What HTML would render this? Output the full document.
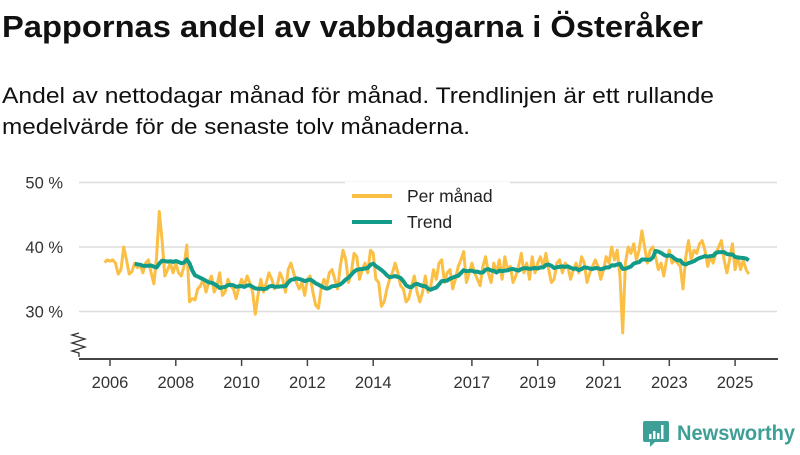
<!DOCTYPE html>
<html><head><meta charset="utf-8"><style>
body{margin:0;background:#fff;width:800px;height:450px;overflow:hidden;font-family:"Liberation Sans",sans-serif}
svg text{font-family:"Liberation Sans",sans-serif}
</style></head><body>
<svg id="chart" width="800" height="450">
<text x="2" y="37" font-size="31" font-weight="bold" fill="#111" textLength="701" lengthAdjust="spacingAndGlyphs">Pappornas andel av vabbdagarna i Österåker</text>
<text x="2" y="103" font-size="22.5" fill="#111" textLength="712" lengthAdjust="spacingAndGlyphs">Andel av nettodagar månad för månad. Trendlinjen är ett rullande</text>
<text x="2" y="134" font-size="22.5" fill="#111" textLength="468" lengthAdjust="spacingAndGlyphs">medelvärde för de senaste tolv månaderna.</text>
<g id="grid"></g><g id="axes"></g><g id="series"></g>
<g>
<rect x="345" y="182" width="165" height="54" fill="#fff"/>
<line x1="352" y1="196" x2="392" y2="196" stroke="#fbbf45" stroke-width="4"/>
<text x="407" y="202" font-size="17.5" fill="#222">Per månad</text>
<line x1="352" y1="222" x2="392" y2="222" stroke="#139b8a" stroke-width="4"/>
<text x="407" y="228" font-size="17.5" fill="#222">Trend</text>
</g>
<g>
<path d="M645,421 h22 a2,2 0 0 1 2,2 v17 a2,2 0 0 1 -2,2 h-12 l-5,5 v-5 h-5 a2,2 0 0 1 -2,-2 v-17 a2,2 0 0 1 2,-2z" fill="#3d9f95"/>
<rect x="649" y="434" width="2.5" height="5" fill="#fff"/><rect x="653" y="431" width="2.5" height="8" fill="#fff"/><rect x="657" y="433" width="2.5" height="6" fill="#fff"/><rect x="661" y="425" width="2.5" height="14" fill="#fff"/>
<text x="677" y="440" font-size="21" font-weight="bold" fill="#3d9f95" textLength="118" lengthAdjust="spacingAndGlyphs">Newsworthy</text>
</g>
</svg>
<script>
const yTicks=[30,40,50];
const yTickLabels=["30 %","40 %","50 %"];
const xTicks=[2006,2008,2010,2012,2014,2017,2019,2021,2023,2025];
const startYear=2005, startMonth=10; // Nov 2005 (0-based month)
const monthly=[37.6,38.0,
37.8,38.0,37.5,35.8,36.5,40.0,38.0,35.8,36.2,37.5,36.8,37.2,
36.0,37.5,38.0,36.0,34.3,38.5,45.5,41.0,35.5,36.5,37.5,36.0,
37.5,36.0,35.5,37.0,40.3,31.5,32.0,31.8,33.5,34.0,35.0,33.0,
34.5,35.5,33.0,34.0,36.0,32.5,33.0,35.0,34.0,33.5,32.0,33.8,
35.0,34.0,35.5,34.5,33.0,29.6,32.5,35.0,33.0,34.5,36.0,35.0,
33.5,34.0,36.0,35.0,33.0,36.5,37.5,36.0,34.5,33.5,34.5,32.5,
35.0,35.5,33.0,31.0,30.5,33.5,35.0,34.0,36.0,36.5,35.0,33.5,
37.0,39.5,38.0,34.5,36.0,39.0,38.5,35.0,36.5,37.5,36.0,39.5,
39.0,35.0,34.5,30.8,31.5,33.5,35.0,36.0,37.5,36.0,34.0,33.5,
31.5,32.0,34.0,35.5,33.0,31.5,33.0,35.5,33.0,34.0,36.5,35.0,
37.5,38.0,34.5,36.0,36.5,33.5,35.0,37.0,38.0,39.3,34.5,36.0,
37.5,36.0,35.0,34.0,37.0,38.5,36.0,34.5,37.5,36.0,38.0,35.0,
38.5,36.5,37.0,34.5,35.5,37.0,39.0,36.0,37.5,35.0,38.5,36.0,
37.5,38.5,37.0,39.0,36.5,34.5,35.0,37.5,38.0,36.0,37.5,37.0,
35.0,36.5,37.5,36.0,38.5,37.5,34.5,36.0,37.0,38.0,37.0,35.0,
36.5,38.5,37.5,40.0,38.0,39.5,35.5,26.7,37.5,40.0,39.0,40.5,
38.0,39.5,42.5,40.0,37.5,39.5,40.0,38.5,36.5,37.5,35.5,38.0,
39.5,37.5,38.0,37.5,37.0,33.5,38.5,41.0,38.0,39.5,39.0,40.5,
41.0,39.5,37.0,38.5,37.5,39.0,40.0,41.0,38.0,36.0,38.0,40.5,
36.5,38.5,36.5,38.0,36.5,35.8];
const NS="http://www.w3.org/2000/svg";
function xS(t){return 110+(t-2006)*32.9;}
function yS(v){return 247-(v-40)*6.45;}
function tOf(i){return startYear+(startMonth+i)/12;}
function mk(tag,attrs,parent){const e=document.createElementNS(NS,tag);for(const k in attrs)e.setAttribute(k,attrs[k]);parent.appendChild(e);return e;}
const grid=document.getElementById('grid'),axes=document.getElementById('axes'),series=document.getElementById('series');
yTicks.forEach((v,i)=>{
 const l=mk('line',{x1:79,x2:777,y1:yS(v),y2:yS(v),stroke:'#ddd','stroke-width':1.5},grid);
 
 
 const t=mk('text',{x:63,y:yS(v)+6,'font-size':16.5,fill:'#333','text-anchor':'end'},grid);
 t.textContent=yTickLabels[i];
 
 
});
const ax=mk('line',{x1:79,x2:778,y1:359,y2:359,stroke:'#444','stroke-width':2},axes);


const zz=mk('path',{d:'M79,357 L79,353 L72,351 L85,347 L72,343 L85,339 L72,335 L79,333',fill:'none',stroke:'#333','stroke-width':1.3},axes);


xTicks.forEach(y=>{
 const tk=mk('line',{x1:xS(y),x2:xS(y),y1:359,y2:366,stroke:'#444','stroke-width':1.5},axes);
 
 
 const t=mk('text',{x:xS(y),y:388,'font-size':16.5,fill:'#333','text-anchor':'middle'},axes);
 t.textContent=y;
 
 
});
const mp=monthly.map((v,i)=>xS(tOf(i)).toFixed(1)+','+yS(v).toFixed(1)).join(' ');
const ml=mk('polyline',{points:mp,fill:'none',stroke:'#fbbf45','stroke-width':3,'stroke-linejoin':'round'},series);


const tp=[];
for(let i=11;i<monthly.length;i++){let s=0;for(let j=i-11;j<=i;j++)s+=monthly[j];tp.push(xS(tOf(i)).toFixed(1)+','+yS(s/12).toFixed(1));}
const tl=mk('polyline',{points:tp.join(' '),fill:'none',stroke:'#139b8a','stroke-width':4,'stroke-linejoin':'round'},series);


</script>
</body></html>
